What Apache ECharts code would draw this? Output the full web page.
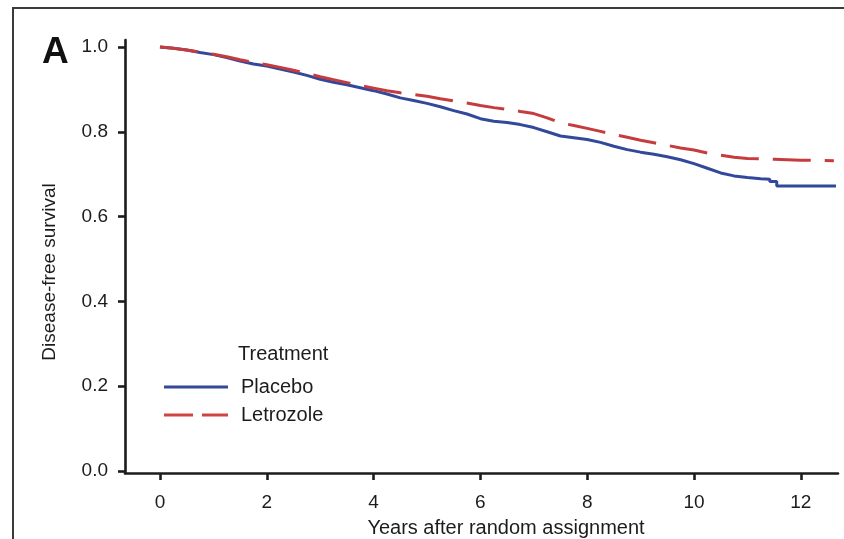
<!DOCTYPE html>
<html>
<head>
<meta charset="utf-8">
<title>Disease-free survival</title>
<script src="https://cdn.jsdelivr.net/npm/echarts@6/dist/echarts.min.js"></script>
<style>
  html, body { margin: 0; padding: 0; background: #ffffff; }
  #chart { width: 844px; height: 539px; }
</style>
</head>
<body>
<div id="chart"></div>
<script>
// Kaplan-Meier estimates of disease-free survival by treatment arm
const placeboYears = [0, 0.25, 0.5, 0.75, 1.0, 1.25, 1.5, 1.75, 2.0, 2.25, 2.5, 2.75, 3.0, 3.25, 3.5, 3.75,
  4.0, 4.25, 4.5, 4.75, 5.0, 5.25, 5.5, 5.75, 6.0, 6.25, 6.5, 6.75, 7.0, 7.25, 7.5, 7.75, 8.0, 8.25,
  8.5, 8.75, 9.0, 9.25, 9.5, 9.75, 10.0, 10.25, 10.5, 10.75, 11.0, 11.25, 11.42, 11.42, 11.55, 11.55, 12.66];
const placeboDFS = [1.000, 0.997, 0.993, 0.987, 0.982, 0.975, 0.967, 0.960, 0.955, 0.948, 0.941, 0.933, 0.924,
  0.917, 0.911, 0.904, 0.897, 0.889, 0.880, 0.874, 0.867, 0.859, 0.850, 0.842, 0.831, 0.825, 0.822, 0.817,
  0.810, 0.800, 0.790, 0.786, 0.782, 0.775, 0.766, 0.758, 0.752, 0.747, 0.741, 0.734, 0.725, 0.714, 0.703,
  0.696, 0.692, 0.689, 0.688, 0.683, 0.683, 0.672, 0.672];

const letrozoleYears = [0, 0.25, 0.5, 0.75, 1.0, 1.25, 1.5, 1.75, 2.0, 2.25, 2.5, 2.75, 3.0, 3.25, 3.5, 3.75,
  4.0, 4.25, 4.5, 4.75, 5.0, 5.25, 5.5, 5.75, 6.0, 6.25, 6.5, 6.75, 7.0, 7.25, 7.5, 7.75, 8.0, 8.25,
  8.5, 8.75, 9.0, 9.25, 9.5, 9.75, 10.0, 10.25, 10.5, 10.75, 11.0, 11.5, 12.0, 12.62];
const letrozoleDFS = [1.000, 0.997, 0.993, 0.988, 0.983, 0.977, 0.970, 0.964, 0.958, 0.952, 0.945, 0.938, 0.930,
  0.923, 0.916, 0.909, 0.903, 0.897, 0.892, 0.888, 0.884, 0.878, 0.873, 0.868, 0.862, 0.857, 0.853, 0.848,
  0.843, 0.833, 0.821, 0.815, 0.808, 0.801, 0.794, 0.787, 0.780, 0.774, 0.768, 0.762, 0.757, 0.750, 0.745,
  0.740, 0.737, 0.735, 0.733, 0.732];

const xTickValues = [0, 2, 4, 6, 8, 10, 12];
const yTickValues = [0, 0.2, 0.4, 0.6, 0.8, 1.0];
const seriesNames = ['Placebo', 'Letrozole'];
const panelLabel = 'A';
const legendTitle = 'Treatment';
const xTitle = 'Years after random assignment';
const yTitle = 'Disease-free survival';

const FONT = '"Liberation Sans", Arial, Helvetica, sans-serif';
const INK = '#1c1c1c';
const BLUE = '#32489a';
const RED = '#c63b3d';
const LEGEND_RED = '#cf4441';

// legend keys: a solid bar and a two-dash bar, both 64 x 3
const SOLID_KEY = 'rect';
const DASHED_KEY = 'path://M0 0H29V3H0ZM38 0H64V3H38Z';

const pairs = (xs, ys) => xs.map((x, i) => [x, ys[i]]);

const chart = echarts.init(document.getElementById('chart'), null, { renderer: 'canvas' });

chart.setOption({
  animation: false,
  backgroundColor: '#ffffff',
  textStyle: { fontFamily: FONT, color: INK },
  title: [
    {
      text: panelLabel, left: 42, top: 34, padding: 0,
      textStyle: { fontFamily: FONT, fontSize: 37, fontWeight: 'bold', color: '#111' }
    },
    {
      text: legendTitle, left: 238, top: 344, padding: 0,
      textStyle: { fontFamily: FONT, fontSize: 20, fontWeight: 'normal', color: INK }
    }
  ],
  grid: { left: 125, right: 6, top: 40, bottom: 66, containLabel: false },
  legend: {
    orient: 'vertical',
    left: 164, top: 377,
    padding: 0,
    itemWidth: 64, itemHeight: 3, itemGap: 8,
    symbolKeepAspect: false,
    selectedMode: false,
    itemStyle: { borderWidth: 0, opacity: 1 },
    textStyle: { fontFamily: FONT, fontSize: 20, color: INK, padding: [0, 0, 0, 8] },
    data: [
      { name: seriesNames[0], icon: SOLID_KEY, itemStyle: { color: BLUE, borderWidth: 0 } },
      { name: seriesNames[1], icon: DASHED_KEY, itemStyle: { color: LEGEND_RED, borderWidth: 0 } }
    ]
  },
  xAxis: {
    type: 'value',
    min: -0.655, max: 12.697,
    axisLine: { onZero: false, lineStyle: { color: INK, width: 2.6 } },
    axisTick: { show: true, length: 7, customValues: xTickValues, lineStyle: { color: INK, width: 2.6 } },
    axisLabel: { customValues: xTickValues, margin: 20, fontFamily: FONT, fontSize: 19, color: INK },
    splitLine: { show: false }
  },
  yAxis: {
    type: 'value',
    min: -0.0047, max: 1.0165,
    axisLine: { show: true, onZero: false, lineStyle: { color: INK, width: 2.6 } },
    axisTick: { show: true, length: 7, customValues: yTickValues, lineStyle: { color: INK, width: 2.6 } },
    axisLabel: {
      customValues: yTickValues, margin: 17, fontFamily: FONT, fontSize: 19, color: INK,
      formatter: v => v.toFixed(1)
    },
    splitLine: { show: false }
  },
  graphic: [
    {
      type: 'polyline', silent: true,
      shape: { points: [[13, 539], [13, 8], [844, 8]] },
      style: { stroke: '#3a3a3a', lineWidth: 2, fill: null }
    },
    {
      type: 'text', silent: true,
      x: 50, y: 272, rotation: Math.PI / 2,
      style: { text: yTitle, font: '19px ' + FONT, fill: INK, textAlign: 'center', textVerticalAlign: 'middle' }
    },
    {
      type: 'text', silent: true,
      x: 506, y: 528,
      style: { text: xTitle, font: '20px ' + FONT, fill: INK, textAlign: 'center', textVerticalAlign: 'middle' }
    }
  ],
  series: [
    {
      name: seriesNames[0], type: 'line', showSymbol: false, symbol: 'none',
      data: pairs(placeboYears, placeboDFS),
      lineStyle: { color: BLUE, width: 3 },
      itemStyle: { color: BLUE },
      z: 2
    },
    {
      name: seriesNames[1], type: 'line', showSymbol: false, symbol: 'none',
      data: pairs(letrozoleYears, letrozoleDFS),
      lineStyle: { color: RED, width: 3, type: [38, 14] },
      itemStyle: { color: RED },
      z: 3
    }
  ]
});
</script>
</body>
</html>
